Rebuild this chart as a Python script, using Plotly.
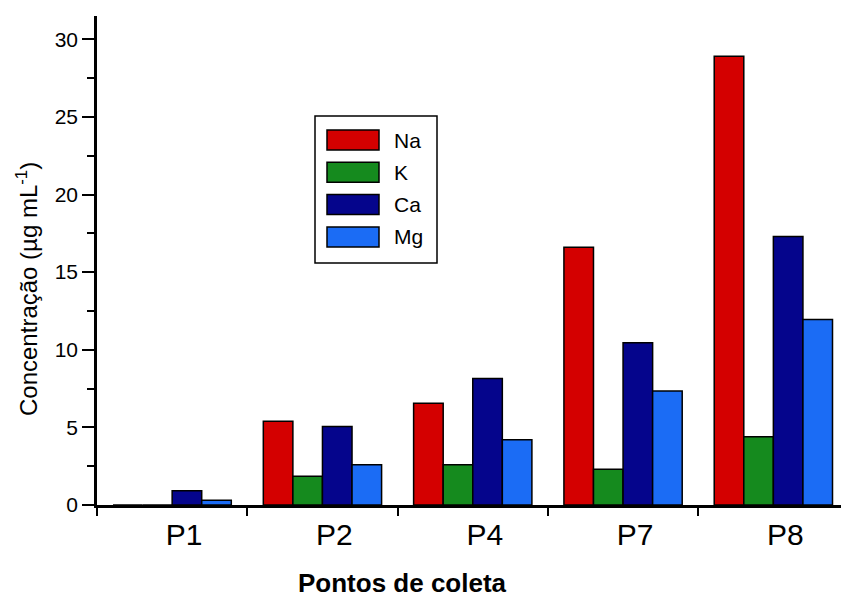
import plotly.graph_objects as go

categories = ["P1", "P2", "P4", "P7", "P8"]
series_names = ["Na", "K", "Ca", "Mg"]
na_values = [0.0, 5.4, 6.55, 16.6, 28.9]
k_values = [0.0, 1.85, 2.6, 2.3, 4.4]
ca_values = [0.92, 5.05, 8.15, 10.45, 17.3]
mg_values = [0.3, 2.6, 4.2, 7.35, 11.95]
colors = ["#d40000", "#158a1e", "#05058c", "#1b6cf5"]
y_ticks = [0, 5, 10, 15, 20, 25, 30]

values = [na_values, k_values, ca_values, mg_values]

W, H = 841, 599
ml, mr, mt, mb = 97, 0, 16, 94
pw, ph = W - ml - mr, H - mt - mb

fig = go.Figure()
for name, vals, col in zip(series_names, values, colors):
    fig.add_trace(go.Bar(
        name=name, x=categories, y=vals,
        marker=dict(color=col, line=dict(color="black", width=1.5)),
        showlegend=False,
    ))

font_family = "Liberation Sans, Arial, sans-serif"

fig.update_layout(
    width=W, height=H,
    margin=dict(l=ml, r=mr, t=mt, b=mb, autoexpand=False),
    paper_bgcolor="white", plot_bgcolor="white",
    barmode="group", bargap=0.213, bargroupgap=0.0,
    font=dict(family=font_family, color="black"),
)

fig.update_xaxes(
    range=[-0.5, 4.45],
    showline=True, linecolor="black", linewidth=2.5,
    ticks="outside", tickson="boundaries", ticklen=8, tickwidth=2, tickcolor="black",
    tickfont=dict(size=30, family=font_family),
    ticklabelshift=12, ticklabelstandoff=1,
    showgrid=False, zeroline=False,
)
fig.update_yaxes(
    range=[0, 31.5],
    tickvals=y_ticks,
    showline=True, linecolor="black", linewidth=2.5,
    ticks="outside", ticklen=12, tickwidth=2, tickcolor="black",
    tickfont=dict(size=21, family=font_family),
    minor=dict(dtick=2.5, ticks="outside", ticklen=7, tickwidth=2, tickcolor="black"),
    showgrid=False, zeroline=False,
)


def px_x(x):
    return (x - ml) / pw


def px_y(y):
    return (H - mb - y) / ph


# y axis title
fig.add_annotation(
    text="Concentração (µg mL<sup>-1</sup>)", xref="paper", yref="paper",
    x=px_x(27), y=px_y(289), xanchor="center", yanchor="middle", textangle=-90,
    showarrow=False, font=dict(size=24, family=font_family),
)

# x axis title
fig.add_annotation(
    text="<b>Pontos de coleta</b>", xref="paper", yref="paper",
    x=px_x(402), y=px_y(566), xanchor="center", yanchor="top",
    showarrow=False, font=dict(size=26, family=font_family),
)

# legend box (custom, large swatches)
fig.add_shape(type="rect", xref="paper", yref="paper",
              x0=px_x(315), x1=px_x(437), y0=px_y(263), y1=px_y(116),
              line=dict(color="black", width=1.5), fillcolor="white", layer="above")
for i, (name, col) in enumerate(zip(series_names, colors)):
    cy = 140 + i * 32.3
    fig.add_shape(type="rect", xref="paper", yref="paper",
                  x0=px_x(327), x1=px_x(379), y0=px_y(cy + 10), y1=px_y(cy - 10),
                  line=dict(color="black", width=1.5), fillcolor=col, layer="above")
    fig.add_annotation(text=name, xref="paper", yref="paper",
                       x=px_x(392), y=px_y(cy), xanchor="left", yanchor="middle",
                       showarrow=False, font=dict(size=21, family=font_family))

fig.write_html("out.html")
